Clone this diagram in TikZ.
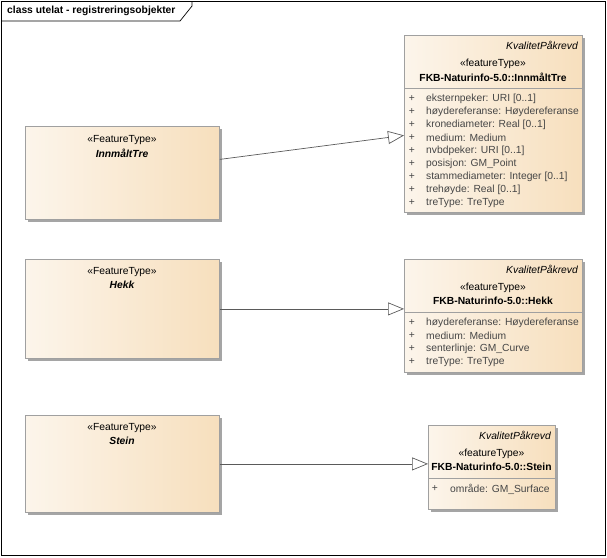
\documentclass[tikz,border=0pt]{standalone}
\usepackage{fontspec}
\setmainfont{Liberation Sans}
\usetikzlibrary{shadows,arrows.meta}
\definecolor{fillL}{RGB}{252,245,235}
\definecolor{fillR}{RGB}{247,223,189}
\definecolor{bord}{RGB}{160,160,160}
\definecolor{shad}{RGB}{165,165,165}
\definecolor{conn}{RGB}{90,90,90}
\definecolor{attr}{RGB}{70,70,70}
\tikzset{
  cls/.style={draw=bord, line width=0.8pt, left color=fillL, right color=fillR,
    inner sep=0pt, anchor=north west,
    drop shadow={shadow xshift=3pt, shadow yshift=-3pt, fill=shad, opacity=1}},
  txt/.style={font=\fontsize{10.3}{11}\selectfont, inner sep=0pt},
  stereo/.style={txt},
  lname/.style={txt, font=\fontsize{10.3}{11}\selectfont\bfseries\itshape},
  rname/.style={txt, font=\fontsize{10.3}{11}\selectfont\bfseries},
  tag/.style={txt, font=\fontsize{10.3}{11}\selectfont\itshape, anchor=east},
  plus/.style={txt, text=attr},
  attrtxt/.style={txt, text=attr, anchor=west},
  sep/.style={draw=bord, line width=0.8pt},
  gen/.style={draw=conn, line width=0.7pt, -{Triangle[open, length=16pt, width=13pt]}}
}
\begin{document}
\begin{tikzpicture}[x=1pt,y=-1pt]
\useasboundingbox (0,0) rectangle (607,557);
% frame
\draw[black, line width=0.7pt] (1,1) rectangle (605,555);
\draw[black, line width=0.7pt] (1,21) -- (180,21) -- (192,6) -- (192,1);
\node[txt, font=\fontsize{10.3}{11}\selectfont\bfseries, anchor=west] (title) at (7,11) {class utelat - registreringsobjekter};

% left boxes
\node[cls, minimum width=194pt, minimum height=93pt] (l1) at (25,126) {};
\node[stereo] (l1s) at (122,140) {«FeatureType»};
\node[lname] (l1n) at (122,153) {InnmåltTre};

\node[cls, minimum width=194pt, minimum height=99pt] (l2) at (25,259) {};
\node[stereo] (l2s) at (122,272) {«FeatureType»};
\node[lname] (l2n) at (122,285) {Hekk};

\node[cls, minimum width=194pt, minimum height=97pt] (l3) at (25,415) {};
\node[stereo] (l3s) at (122,428) {«FeatureType»};
\node[lname] (l3n) at (122,441) {Stein};

% right box 1
\node[cls, minimum width=178pt, minimum height=177pt] (r1) at (404,35) {};
\node[tag] (r1t) at (578,45) {KvalitetPåkrevd};
\node[stereo] (r1s) at (493,64) {«featureType»};
\node[rname] (r1n) at (493,77) {FKB-Naturinfo-5.0::InnmåltTre};
\draw[sep] (404,88) -- (582,88);
\foreach \a [count=\i] in {eksternpeker: URI [0..1], høydereferanse: Høydereferanse, kronediameter: Real [0..1], medium: Medium, nvbdpeker: URI [0..1], posisjon: GM\_Point, stammediameter: Integer [0..1], trehøyde: Real [0..1], treType: TreType}{
  \node[plus] (r1p\i) at (412,{99+13*(\i-1)}) {+};
  \node[attrtxt] (r1a\i) at (426,{99+13*(\i-1)}) {\a};
}

% right box 2
\node[cls, minimum width=178pt, minimum height=113pt] (r2) at (404,259) {};
\node[tag] (r2t) at (578,269) {KvalitetPåkrevd};
\node[stereo] (r2s) at (493,288) {«featureType»};
\node[rname] (r2n) at (493,301) {FKB-Naturinfo-5.0::Hekk};
\draw[sep] (404,312) -- (582,312);
\foreach \a [count=\i] in {høydereferanse: Høydereferanse, medium: Medium, senterlinje: GM\_Curve, treType: TreType}{
  \node[plus] (r2p\i) at (412,{323+13*(\i-1)}) {+};
  \node[attrtxt] (r2a\i) at (426,{323+13*(\i-1)}) {\a};
}

% right box 3
\node[cls, minimum width=127pt, minimum height=84pt] (r3) at (428,425) {};
\node[tag] (r3t) at (551,435) {KvalitetPåkrevd};
\node[stereo] (r3s) at (491.5,454) {«featureType»};
\node[rname] (r3n) at (491.5,467) {FKB-Naturinfo-5.0::Stein};
\draw[sep] (428,478) -- (555,478);
\node[plus] (r3p1) at (435,489) {+};
\node[attrtxt] (r3a1) at (450,489) {område: GM\_Surface};

% connectors
\draw[gen] ([yshift=13.5pt]l1.east) -- ([yshift=-11.5pt]r1.west);
\draw[gen] (l2.east) -- (l2.east -| r2.west);
\draw[gen] (l3.east) -- (l3.east -| r3.west);
\end{tikzpicture}
\end{document}
